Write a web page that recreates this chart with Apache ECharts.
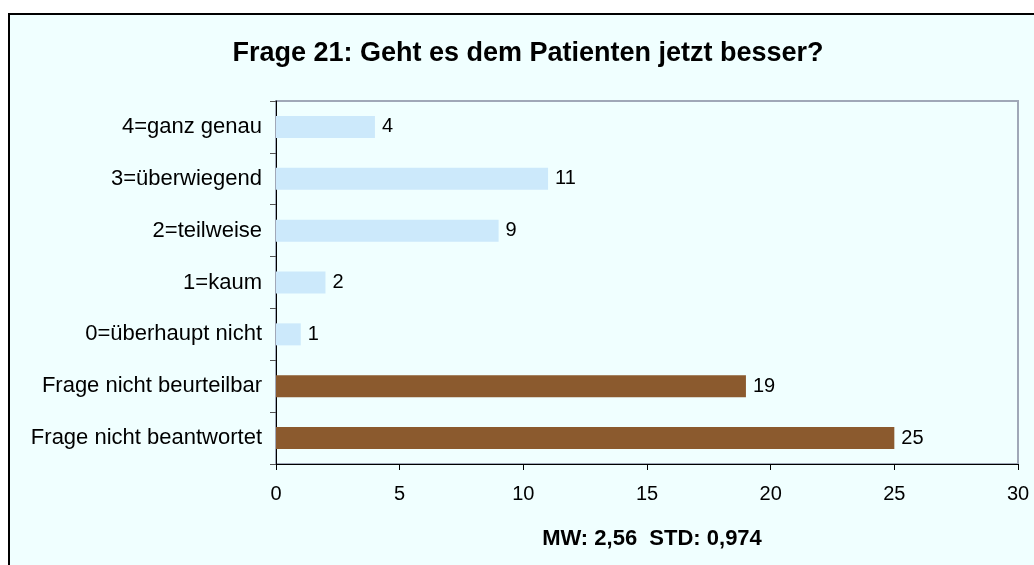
<!DOCTYPE html>
<html>
<head>
<meta charset="utf-8">
<script src="https://cdn.jsdelivr.net/npm/echarts@6/dist/echarts.min.js"></script>
<style>
  html, body { margin: 0; padding: 0; background: #fff; overflow: hidden; }
  #frame { position: absolute; left: 8px; top: 13px; width: 1100px; height: 600px;
           background: #f0ffff; border-left: 2px solid #000; border-top: 2px solid #000; }
  #chart { position: absolute; left: 0; top: 0; width: 1034px; height: 565px; }
</style>
</head>
<body>
<div id="frame"></div>
<div id="chart"></div>
<script>
  // Kategorien von oben nach unten
  const categories = ['4=ganz genau', '3=überwiegend', '2=teilweise', '1=kaum',
    '0=überhaupt nicht', 'Frage nicht beurteilbar', 'Frage nicht beantwortet'];
  const counts = [4, 11, 9, 2, 1, 19, 25];
  const barColors = ['#cce9fb', '#cce9fb', '#cce9fb', '#cce9fb', '#cce9fb', '#8b5a2e', '#8b5a2e'];

  let myChart = echarts.init(document.getElementById('chart'));
  let option = {
    backgroundColor: 'transparent',
    textStyle: { fontFamily: 'Liberation Sans, Arial, sans-serif' },
    title: [
      {
        text: 'Frage 21: Geht es dem Patienten jetzt besser?',
        left: 523, top: 35, textAlign: 'center',
        textStyle: { fontSize: 27, fontWeight: 'bold', color: '#000' }
      },
      {
        text: 'MW: 2,56  STD: 0,974',
        left: 647, top: 523, textAlign: 'center',
        textStyle: { fontSize: 22, fontWeight: 'bold', color: '#000' }
      }
    ],
    grid: {
      left: 276, top: 101, right: 16, bottom: 101,
      show: true, borderColor: '#a0a8b8', borderWidth: 2, backgroundColor: 'transparent'
    },
    xAxis: {
      type: 'value', min: 0, max: 30, interval: 5,
      axisLine: { show: true, lineStyle: { color: '#000', width: 1 } },
      axisTick: { show: true, length: 6, lineStyle: { color: '#000' } },
      axisLabel: { fontSize: 20, color: '#000', margin: 20 },
      splitLine: { show: false }
    },
    yAxis: {
      type: 'category', data: categories, inverse: true,
      axisLine: { show: true, lineStyle: { color: '#000', width: 1 } },
      axisTick: { show: true, length: 6, lineStyle: { color: '#555' } },
      axisLabel: { fontSize: 22, color: '#000', margin: 14 }
    },
    series: [
      {
        type: 'bar',
        barWidth: 22,
        data: counts.map((v, i) => ({ value: v, itemStyle: { color: barColors[i] } })),
        label: { show: true, position: 'right', distance: 7, fontSize: 20, color: '#000' },
        animation: false
      }
    ]
  };
  option && myChart.setOption(option);
</script>
</body>
</html>
